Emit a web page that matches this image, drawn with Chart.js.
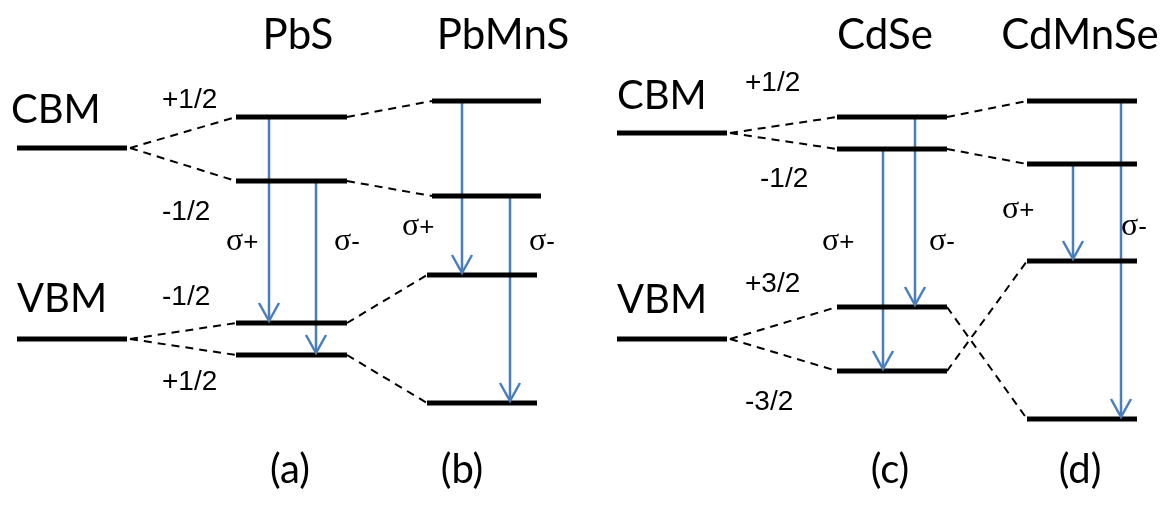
<!DOCTYPE html>
<html>
<head>
<meta charset="utf-8">
<script src="https://cdn.jsdelivr.net/npm/chart.js@4"></script>
<style>html,body{margin:0;padding:0;background:#fff}</style>
</head>
<body>
<canvas id="levels" width="1169" height="508"></canvas>
<script>
// materials, left to right
const materials = ['PbS', 'PbMnS', 'CdSe', 'CdMnSe'];
const panelTags = ['(a)', '(b)', '(c)', '(d)'];
// unsplit band edges (left half: Pb, right half: Cd), energy (down = lower)
const cbmBase = [148, 133];
const vbmBase = [339, 339];
// split levels for each material
const cbmUpper = [117, 101, 117, 101];
const cbmLower = [181, 196, 149, 164];
const vbmUpper = [323, 275, 307, 261];
const vbmLower = [355, 403, 371, 419];
const spinLabelsPb = ['+1/2', '-1/2', '-1/2', '+1/2'];
const spinLabelsCd = ['+1/2', '-1/2', '+3/2', '-3/2'];
// optical transitions: material, from level, to level, polarisation
const transitions = [
  [0, 'cbmUpper', 'vbmUpper', '+'],
  [0, 'cbmLower', 'vbmLower', '-'],
  [1, 'cbmUpper', 'vbmUpper', '+'],
  [1, 'cbmLower', 'vbmLower', '-'],
  [2, 'cbmLower', 'vbmLower', '+'],
  [2, 'cbmUpper', 'vbmUpper', '-'],
  [3, 'cbmLower', 'vbmUpper', '+'],
  [3, 'cbmUpper', 'vbmLower', '-']
];

// layout (horizontal placement only)
const baseSpan = [[17, 127], [617, 727]];
const cbmSpan = [[236, 347], [432, 541], [837, 947], [1027, 1137]];
const vbmSpan = [[236, 347], [427, 537], [837, 947], [1027, 1137]];
const arrowX = [269, 316, 462, 510, 883, 915, 1073, 1121];
const sigmaPos = [[226, 245], [334, 245], [402, 230], [529, 245], [822, 245], [929, 245], [1002, 213], [1121, 230]];

const levels = { cbmUpper, cbmLower, vbmUpper, vbmLower };
const BLUE = '#4a7ebb';

const datasets = [];
function addLine(pts, style) {
  datasets.push(Object.assign({
    data: pts, showLine: true, pointRadius: 0, clip: false,
    borderColor: '#000', borderWidth: 5, borderCapStyle: 'butt'
  }, style));
}

// unsplit levels
for (let h = 0; h < 2; h++) {
  addLine([{x: baseSpan[h][0], y: cbmBase[h]}, {x: baseSpan[h][1], y: cbmBase[h]}], {});
  addLine([{x: baseSpan[h][0], y: vbmBase[h]}, {x: baseSpan[h][1], y: vbmBase[h]}], {});
}
// split levels
for (let m = 0; m < materials.length; m++) {
  addLine([{x: cbmSpan[m][0], y: cbmUpper[m]}, {x: cbmSpan[m][1], y: cbmUpper[m]}], {});
  addLine([{x: cbmSpan[m][0], y: cbmLower[m]}, {x: cbmSpan[m][1], y: cbmLower[m]}], {});
  addLine([{x: vbmSpan[m][0], y: vbmUpper[m]}, {x: vbmSpan[m][1], y: vbmUpper[m]}], {});
  addLine([{x: vbmSpan[m][0], y: vbmLower[m]}, {x: vbmSpan[m][1], y: vbmLower[m]}], {});
}
// dashed correlation lines
const dash = { borderWidth: 2, borderDash: [8, 6] };
for (let h = 0; h < 2; h++) {
  const a = h * 2, b = h * 2 + 1;
  const x0 = baseSpan[h][1] + 3;
  addLine([{x: x0, y: cbmBase[h]}, {x: cbmSpan[a][0], y: cbmUpper[a]}], dash);
  addLine([{x: x0, y: cbmBase[h]}, {x: cbmSpan[a][0], y: cbmLower[a]}], dash);
  addLine([{x: x0, y: vbmBase[h]}, {x: vbmSpan[a][0], y: vbmUpper[a]}], dash);
  addLine([{x: x0, y: vbmBase[h]}, {x: vbmSpan[a][0], y: vbmLower[a]}], dash);
  addLine([{x: cbmSpan[a][1], y: cbmUpper[a]}, {x: cbmSpan[b][0], y: cbmUpper[b]}], dash);
  addLine([{x: cbmSpan[a][1], y: cbmLower[a]}, {x: cbmSpan[b][0], y: cbmLower[b]}], dash);
  // Cd side: valence levels cross over
  const cross = h === 1;
  addLine([{x: vbmSpan[a][1], y: vbmUpper[a]}, {x: vbmSpan[b][0], y: cross ? vbmLower[b] : vbmUpper[b]}], dash);
  addLine([{x: vbmSpan[a][1], y: vbmLower[a]}, {x: vbmSpan[b][0], y: cross ? vbmUpper[b] : vbmLower[b]}], dash);
}
// transition arrows
transitions.forEach((t, i) => {
  const m = t[0];
  addLine([{x: arrowX[i], y: levels[t[1]][m] + 2}, {x: arrowX[i], y: levels[t[2]][m] - 2}],
    { borderColor: BLUE, borderWidth: 2.5, arrow: true });
});

const arrowHeads = {
  id: 'arrowHeads',
  afterDatasetsDraw(chart) {
    const ctx = chart.ctx;
    chart.data.datasets.forEach((ds, i) => {
      if (!ds.arrow) return;
      const pts = chart.getDatasetMeta(i).data;
      const tip = pts[pts.length - 1];
      ctx.save();
      ctx.strokeStyle = BLUE;
      ctx.lineWidth = 2.5;
      ctx.beginPath();
      ctx.moveTo(tip.x - 10, tip.y - 18);
      ctx.lineTo(tip.x, tip.y);
      ctx.lineTo(tip.x + 10, tip.y - 18);
      ctx.stroke();
      ctx.restore();
    });
  }
};

const labels = {
  id: 'labels',
  afterDraw(chart) {
    const ctx = chart.ctx;
    ctx.save();
    ctx.fillStyle = '#000';
    ctx.textBaseline = 'middle';

    ctx.font = '42px Lato';
    ctx.textAlign = 'center';
    [298, 503, 885, 1080].forEach((x, i) => ctx.fillText(materials[i], x, 35));
    ctx.font = '40px Lato';
    [290, 462, 890, 1080].forEach((x, i) => ctx.fillText(panelTags[i], x, 470));

    ctx.textAlign = 'left';
    ctx.fillText('CBM', 11, 110);
    ctx.fillText('VBM', 17, 299);
    ctx.fillText('CBM', 617, 96);
    ctx.fillText('VBM', 617, 300);

    ctx.font = '28px "Liberation Sans"';
    [100, 212, 297, 382].forEach((y, i) => ctx.fillText(spinLabelsPb[i], 162, y));
    [[745, 83], [760, 179], [745, 284], [745, 402]].forEach((p, i) => ctx.fillText(spinLabelsCd[i], p[0], p[1]));

    transitions.forEach((t, i) => {
      const [x, y] = sigmaPos[i];
      ctx.font = '32px "Liberation Serif"';
      ctx.fillText('\u03c3', x, y - 3);
      const w = ctx.measureText('\u03c3').width;
      ctx.font = '26px "Liberation Sans"';
      ctx.fillText(t[3], x + w, y - 2);
    });
    ctx.restore();
  }
};

new Chart(document.getElementById('levels').getContext('2d'), {
  type: 'scatter',
  data: { datasets },
  options: {
    responsive: false,
    animation: false,
    layout: { padding: 0 },
    scales: {
      x: { type: 'linear', min: 0, max: 1169, display: false },
      y: { type: 'linear', min: 0, max: 508, reverse: true, display: false }
    },
    plugins: { legend: { display: false }, tooltip: { enabled: false } },
    events: []
  },
  plugins: [arrowHeads, labels]
});
</script>
</body>
</html>
